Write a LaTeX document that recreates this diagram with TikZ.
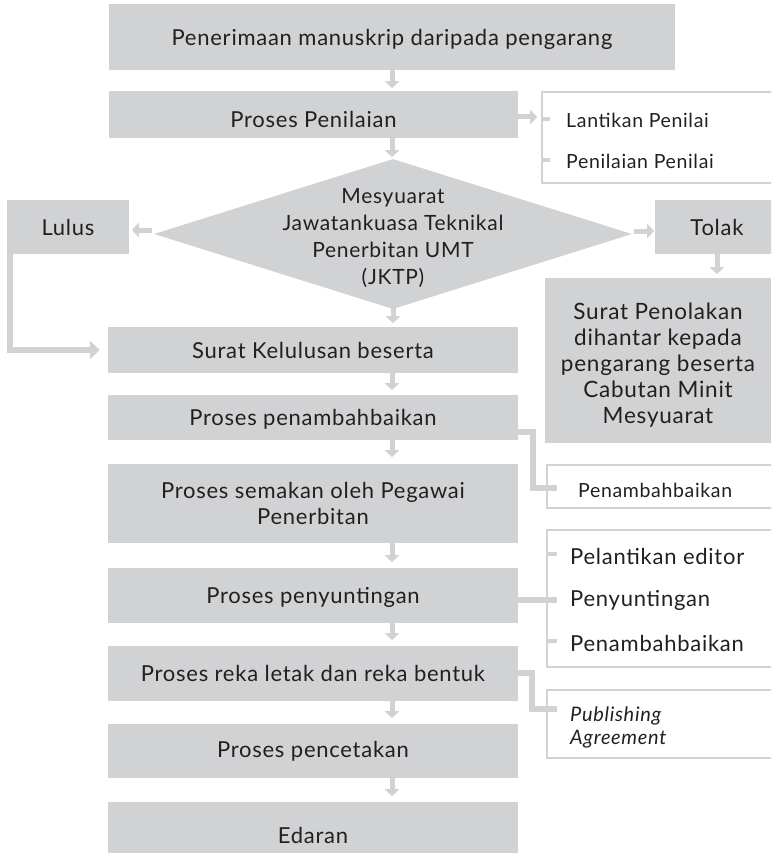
\documentclass[tikz,border=0pt]{standalone}
\usepackage{fontspec}
\setmainfont{Lato}[LetterSpace=3.4]
\usetikzlibrary{arrows.meta,shapes.geometric}
\definecolor{boxgray}{HTML}{D1D2D4}
\definecolor{ink}{HTML}{231F20}
\begin{document}
\begin{tikzpicture}[x=1pt,y=-1pt,
  box/.style={fill=boxgray, inner sep=0pt, font=\fontsize{22}{26}\selectfont, text=ink, align=center},
  sidebox/.style={draw=boxgray, line width=1.6pt},
  sidetxt/.style={anchor=west, inner sep=0pt, text=ink, font=\fontsize{19.5}{24}\selectfont},
  arr/.style={draw=boxgray, line width=5pt, -{Triangle[width=14pt,length=7pt]}},
  conn/.style={draw=boxgray, line width=5.5pt},
  tick/.style={draw=boxgray, line width=4pt}
]
\useasboundingbox (0,0) rectangle (771,853);
\clip (0,0) rectangle (771,853);
\coordinate (axis) at (392,0);

% main column
\node[box, minimum width=566pt, minimum height=66pt, text depth=0pt] (b1) at (392,37) {Penerimaan manuskrip daripada pengarang};
\node[box, minimum width=409pt, minimum height=47pt] (b2) at (313.5,114.5) {};
\node[box, fill=none] (b2txt) at (313.5,119) {Proses Penilaian};
\node[diamond, fill=boxgray, inner sep=0pt, minimum width=478pt, minimum height=150pt] (dia) at (393,234) {};
\node[box, fill=none, font=\fontsize{21}{27}\selectfont] (diatxt) at (393,238) {Mesyuarat\\Jawatankuasa Teknikal\\Penerbitan UMT\\(JKTP)};
\node[box, minimum width=122pt, minimum height=54pt] (lulus) at (68,227) {Lulus};
\node[box, minimum width=124pt, minimum height=54pt] (tolak) at (717,227) {Tolak};
\node[box, minimum width=226pt, minimum height=165pt] (tolakmsg) at (658,360.5) {};
\node[box, fill=none, font=\fontsize{22.5}{26}\selectfont] (tolaktxt) at (658,365) {Surat Penolakan\\dihantar kepada\\pengarang beserta\\Cabutan Minit\\Mesyuarat};
\node[box, minimum width=410pt, minimum height=46pt, text depth=0pt] (kel) at (313,350) {Surat Kelulusan beserta};
\node[box, minimum width=410pt, minimum height=45pt, text depth=0pt] (pen) at (313,417.5) {Proses penambahbaikan};
\node[box, minimum width=410pt, minimum height=79pt] (sem) at (313,503.5) {Proses semakan oleh Pegawai\\Penerbitan};
\node[box, minimum width=410pt, minimum height=55pt, text depth=0pt] (sunt) at (313,595.5) {Proses penyuntingan};
\node[box, minimum width=410pt, minimum height=55pt] (reka) at (313,673.5) {Proses reka letak dan reka bentuk};
\node[box, minimum width=410pt, minimum height=54pt] (cetak) at (313,751) {Proses pencetakan};
\node[box, minimum width=410pt, minimum height=66pt] (edar) at (313,835) {Edaran};

% side boxes
\draw[sidebox] (790,92) -- (542,92) -- (542,183) -- (790,183);
\draw[sidebox] (790,465) -- (547,465) -- (547,508) -- (790,508);
\draw[sidebox] (790,530) -- (547,530) -- (547,667) -- (790,667);
\draw[sidebox] (790,690) -- (547,690) -- (547,758) -- (790,758);

\coordinate (s1a) at (542,119);
\coordinate (s1b) at (542,160);
\draw[tick] (s1a) -- ++(8,0);
\draw[tick] (s1b) -- ++(8,0);
\node[sidetxt] (t1a) at (566,120) {Lantikan Penilai};
\node[sidetxt] (t1b) at (566,161) {Penilaian Penilai};

\coordinate (s2t) at (557,488);
\node[sidetxt] (t2) at (578,490) {Penambahbaikan};

\coordinate (s3a) at (547,554);
\coordinate (s3t) at (557,600);
\coordinate (s3c) at (547,641);
\draw[tick] (s3a) -- ++(10,0);
\draw[tick] (s3c) -- ++(10,0);
\node[sidetxt, font=\fontsize{22}{26}\selectfont] (t3a) at (570,556) {Pelantikan editor};
\node[sidetxt, font=\fontsize{22}{26}\selectfont] (t3b) at (570,600) {Penyuntingan};
\node[sidetxt, font=\fontsize{22}{26}\selectfont] (t3c) at (570,643) {Penambahbaikan};

\coordinate (s4t) at (557,709);
\node[sidetxt, font=\itshape\fontsize{20}{23}\selectfont, align=left] (t4) at (570,727) {Publishing\\Agreement};

% arrows down the main column
\draw[arr] (b1.south -| axis) -- ++(0,18);
\draw[arr] (b2.south -| axis) -- ++(0,19);
\draw[arr] ([yshift=5pt]dia.south) -- ++(0,19);
\draw[arr] (kel.south -| axis) -- ++(0,17);
\draw[arr] (pen.south -| axis) -- ++(0,17);
\draw[arr] (sem.south -| axis) -- ++(0,19);
\draw[arr] (sunt.south -| axis) -- ++(0,17);
\draw[arr] (reka.south -| axis) -- ++(0,17);
\draw[arr] (cetak.south -| axis) -- ++(0,18);

% side arrows
\draw[arr] ([yshift=-2.5pt]b2.east) -- ++(19,0);
\draw[arr] ([xshift=-2pt,yshift=4pt]dia.west) -- ++(-20,0);
\draw[arr] ([xshift=2pt,yshift=3pt]dia.east) -- ++(20,0);
\draw[arr] (tolak.south) -- ++(0,20);
\draw[draw=boxgray, line width=6pt, -{Triangle[width=18pt,length=10pt]}] (lulus.south -| 10,0) |- ([xshift=-8pt]kel.west);

% side connectors
\draw[conn] ([yshift=-14.5pt]pen.east) -- ++(15,0) |- (s2t);
\draw[conn] ([yshift=-4.5pt]sunt.east) -- (s3t);
\draw[conn] ([yshift=0.5pt]reka.east) -- ++(14,0) |- (s4t);
\end{tikzpicture}
\end{document}
